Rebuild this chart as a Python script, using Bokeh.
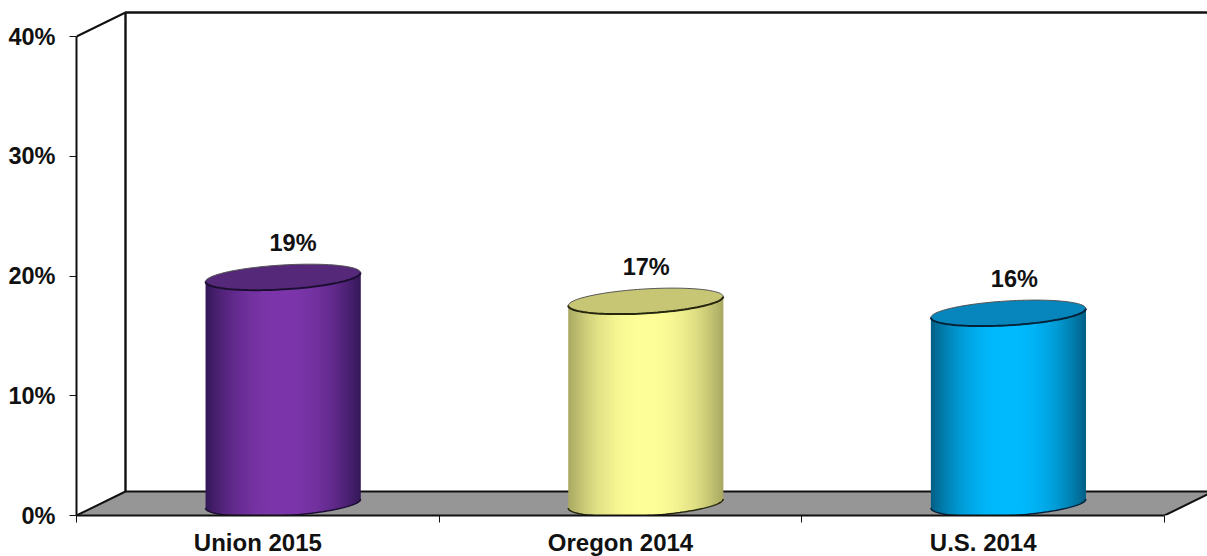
import numpy as np
from bokeh.embed import file_html
from bokeh.models import FixedTicker, Range1d
from bokeh.plotting import figure
from bokeh.resources import INLINE

categories = ["Union 2015", "Oregon 2014", "U.S. 2014"]
values = [18.9, 16.9, 15.9]
data_labels = ["19%", "17%", "16%"]
y_ticks = [0, 10, 20, 30, 40]
side_edge = ["#341858", "#a8a862", "#045f85"]
side_mid = ["#7d36ab", "#ffff99", "#00bbff"]
cap_fill = ["#562879", "#c6c674", "#0686bd"]
rim = ["#1c0d33", "#26260f", "#03233a"]

FONT = "Liberation Sans"
INK = "#111111"

X_MAX = 1131 / 362.67
Y_MAX = 515 / 11.975
DX, DY = 49 / 362.67, 24 / 11.975      # depth of the 3D box
BAR_W = 155 / 362.67
SEMI_A = BAR_W / 2
SEMI_B = 12.2 / 11.975
TILT = 4.5 / 11.975
BAR_SHIFT = 0.7 / 362.67
label_shift = [10 / 362.67, 0.5 / 362.67, 6 / 362.67]

p = figure(
    frame_width=1131, frame_height=515,
    x_range=Range1d(0, X_MAX), y_range=Range1d(0, Y_MAX),
    toolbar_location=None, output_backend="svg",
    min_border_left=76, min_border_right=0, min_border_top=0, min_border_bottom=41,
    outline_line_color=None, background_fill_color="white",
)
p.margin = (0, 0, 0, 0)
p.grid.visible = False

# walls and floor
x_end = 3 + DX
p.patch([0, DX, x_end, 3], [0, DY, DY, 0], fill_color="#969696", fill_alpha=1, line_color=None)
p.line([3, x_end], [0, DY], line_color=INK, line_width=2)
p.line([0, DX, x_end], [0, DY, DY], line_color=INK, line_width=2)
p.line([DX, DX, x_end], [DY, 40 + DY, 40 + DY], line_color=INK, line_width=2.4)
p.line([0, DX], [40, 40 + DY], line_color=INK, line_width=2)

# cylinders
for i, v in enumerate(values):
    cx = i + 0.5 + DX / 2 + BAR_SHIFT
    y0, y1 = DY / 2, DY / 2 + v
    edges = np.linspace(cx - SEMI_A, cx + SEMI_A, 156)
    left, right = edges[:-1], edges[1:]
    mids = (left + right) / 2
    u = (mids - cx) / SEMI_A
    ang = np.arccos(np.clip(u, -1, 1))
    bottoms = y0 - SEMI_B * np.sin(ang) + TILT * u
    tops = y1 + TILT * u
    k = np.clip(np.abs(u), 0, 1) ** 2.2
    c0 = np.array([int(side_mid[i][j:j + 2], 16) for j in (1, 3, 5)])
    c1 = np.array([int(side_edge[i][j:j + 2], 16) for j in (1, 3, 5)])
    cols = ["#%02x%02x%02x" % tuple((c0 + (c1 - c0) * kk).astype(int)) for kk in k]
    # each strip runs under its right-hand neighbour, so no floor shows at the seams
    over = np.minimum(right + (right - left), cx + SEMI_A)
    p.quad(left=left, right=over, top=tops, bottom=bottoms, fill_color=cols, fill_alpha=1, line_color=None)
    t = np.linspace(0, 2 * np.pi, 121)
    ex, ey = cx + SEMI_A * np.cos(t), y1 + SEMI_B * np.sin(t) + TILT * np.cos(t)
    p.patch(ex, ey, fill_color=cap_fill[i], fill_alpha=1, line_color="#555555", line_width=1)
    lower = t >= np.pi
    p.line(ex[lower], ey[lower], line_color=rim[i], line_width=2)
    tb = np.linspace(np.pi, 2 * np.pi, 80)
    p.line(cx + SEMI_A * np.cos(tb), y0 + SEMI_B * np.sin(tb) + TILT * np.cos(tb),
           line_color=rim[i], line_width=1.5)
    p.text([cx + label_shift[i]], [y1 + SEMI_B + 0.75], text=[data_labels[i]], text_font={"value": FONT},
           text_font_size="23.5px", text_font_style="bold", text_align="center",
           text_baseline="bottom", text_color=INK)

# axes
ya = p.yaxis[0]
ya.ticker = FixedTicker(ticks=y_ticks)
ya.bounds = (0, 40)
ya.major_label_overrides = {t: f"{t}%" for t in y_ticks}
ya.major_tick_in = 0
ya.major_tick_out = 7
ya.minor_tick_out = 0
ya.minor_tick_in = 0
ya.major_label_standoff = 14
ya.axis_line_width = 2
ya.axis_line_color = INK
ya.major_tick_line_color = INK
ya.major_label_text_font = FONT
ya.major_label_text_font_size = "23.5px"
ya.major_label_text_font_style = "bold"
ya.major_label_text_color = INK

xa = p.xaxis[0]
xa.ticker = FixedTicker(ticks=[i + 0.5 for i in range(3)], minor_ticks=[0, 1, 2, 3])
xa.bounds = (0, 3)
xa.major_label_overrides = {i + 0.5: c for i, c in enumerate(categories)}
xa.major_tick_in = 0
xa.major_tick_out = 0
xa.minor_tick_in = 0
xa.minor_tick_out = 7
xa.minor_tick_line_color = INK
xa.major_label_standoff = 6
xa.axis_line_width = 2
xa.axis_line_color = INK
xa.major_label_text_font = FONT
xa.major_label_text_font_size = "24px"
xa.major_label_text_font_style = "bold"
xa.major_label_text_color = INK

open("out.html", "w").write(file_html(p, INLINE))
